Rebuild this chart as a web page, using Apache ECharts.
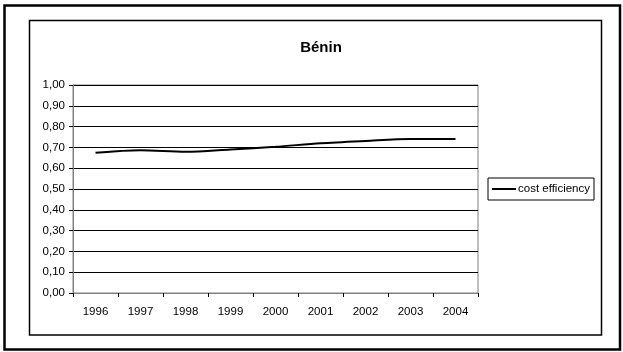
<!DOCTYPE html>
<html>
<head>
<meta charset="utf-8">
<style>
  html, body { margin: 0; padding: 0; background: #fff; }
  #chart { width: 623px; height: 352px; }
</style>
<script src="https://cdn.jsdelivr.net/npm/echarts@6/dist/echarts.min.js"></script>
</head>
<body>
<div id="chart"></div>
<script>
// Cost efficiency of the banking sector, Bénin, 1996–2004
const years = ['1996', '1997', '1998', '1999', '2000', '2001', '2002', '2003', '2004'];
const costEfficiency = [0.674, 0.686, 0.679, 0.690, 0.703, 0.720, 0.731, 0.740, 0.740];
const yTicks = [0, 0.1, 0.2, 0.3, 0.4, 0.5, 0.6, 0.7, 0.8, 0.9, 1.0];

const FONT = '"Liberation Sans", Arial, sans-serif';
const chart = echarts.init(document.getElementById('chart'), null, { renderer: 'canvas' });

chart.setOption({
  animation: false,
  backgroundColor: '#fff',
  textStyle: { fontFamily: FONT, color: '#000' },
  title: {
    text: 'Bénin',
    left: 316,
    top: 35,
    textAlign: 'center',
    textStyle: { fontFamily: FONT, fontSize: 15, fontWeight: 'bold', color: '#000' }
  },
  graphic: [
    { type: 'rect', shape: { x: 4.5, y: 5.5, width: 615.5, height: 344 },
      style: { fill: 'none', stroke: '#000', lineWidth: 2.5 }, silent: true },
    { type: 'rect', shape: { x: 29.5, y: 20.5, width: 572, height: 314.5 },
      style: { fill: 'none', stroke: '#000', lineWidth: 1.5 }, silent: true }
  ],
  grid: {
    left: 73, right: 145, top: 85, bottom: 59,
    show: true, borderColor: '#808080', borderWidth: 1, backgroundColor: 'transparent'
  },
  legend: {
    left: 488, top: 178,
    orient: 'vertical',
    padding: [5, 4, 5, 4],
    borderColor: '#000', borderWidth: 1,
    icon: 'rect', itemWidth: 24, itemHeight: 2, itemGap: 0,
    textStyle: { fontFamily: FONT, fontSize: 11.5, color: '#000', padding: [0, 0, 0, -3] },
    data: ['cost efficiency']
  },
  xAxis: {
    type: 'category',
    data: years,
    boundaryGap: true,
    axisLine: { lineStyle: { color: '#808080', width: 1 } },
    axisTick: { show: true, inside: false, length: 4, lineStyle: { color: '#000' } },
    axisLabel: { fontFamily: FONT, fontSize: 11.5, color: '#000', margin: 13 },
    splitLine: { show: false }
  },
  yAxis: {
    type: 'value',
    min: yTicks[0], max: yTicks[yTicks.length - 1], interval: 0.1,
    axisLine: { show: true, lineStyle: { color: '#808080', width: 1 } },
    axisTick: { show: true, inside: false, length: 4, lineStyle: { color: '#000' } },
    axisLabel: {
      fontFamily: FONT, fontSize: 11.5, color: '#000', margin: 8,
      formatter: v => v.toFixed(2).replace('.', ',')
    },
    splitLine: { show: true, lineStyle: { color: '#000', width: 1 } }
  },
  series: [{
    name: 'cost efficiency',
    type: 'line',
    data: costEfficiency,
    smooth: 0.3,
    showSymbol: false,
    symbol: 'none',
    color: '#000',
    lineStyle: { color: '#000', width: 2 }
  }]
});
</script>
</body>
</html>
